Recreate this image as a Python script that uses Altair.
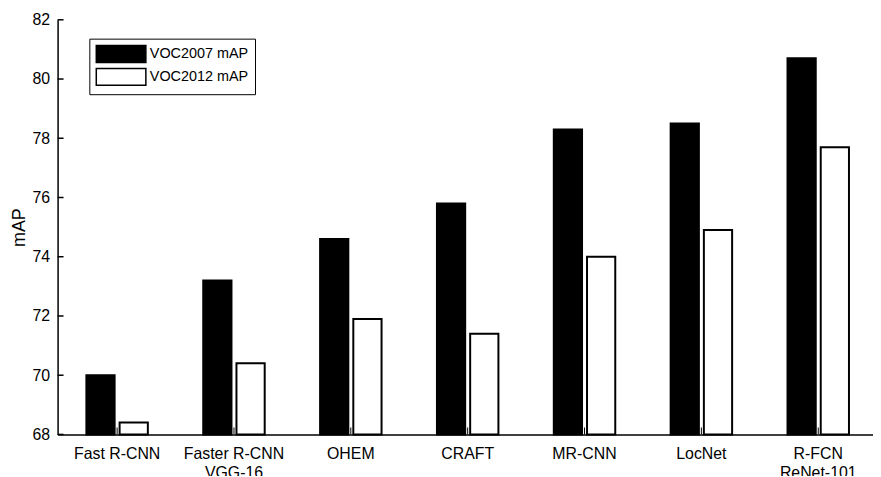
import altair as alt
import pandas as pd

categories = ["Fast R-CNN", "Faster R-CNN|VGG-16", "OHEM", "CRAFT", "MR-CNN", "LocNet", "R-FCN|ReNet-101"]
series = ["VOC2007 mAP", "VOC2012 mAP"]
voc2007 = [70.0, 73.2, 74.6, 75.8, 78.3, 78.5, 80.7]
voc2012 = [68.4, 70.4, 71.9, 71.4, 74.0, 74.9, 77.7]
y_ticks = [68, 70, 72, 74, 76, 78, 80, 82]

rows = []
for c, a, b in zip(categories, voc2007, voc2012):
    rows.append({"cat": c, "series": series[0], "v": a})
    rows.append({"cat": c, "series": series[1], "v": b})
df = pd.DataFrame(rows)
ticks_df = pd.DataFrame({"t": y_ticks})
cat_df = pd.DataFrame({"cat": categories})

W, H = 822, 418
FONT = "Liberation Sans"

xscale = alt.Scale(domain=categories, paddingInner=0.474, paddingOuter=0.226, align=0.545)
yscale = alt.Scale(domain=[y_ticks[0], y_ticks[-1]], zero=False, nice=False)

xaxis = alt.Axis(title=None, labelExpr="split(datum.label, '|')", labelAngle=0,
                 labelFontSize=16, labelFont=FONT, labelColor="black",
                 labelPadding=11, labelLineHeight=19, ticks=False, tickSize=0,
                 domainColor="black", domainWidth=1.5, grid=False)
yaxis = alt.Axis(title="mAP", values=y_ticks, labelFontSize=16, labelFont=FONT,
                 labelColor="black", labelPadding=8, ticks=False, tickSize=0,
                 domainColor="black", domainWidth=1.5, grid=False,
                 titleFontSize=18, titleFont=FONT, titleColor="black",
                 titleFontWeight="normal", titlePadding=4)

bars = alt.Chart(df).mark_bar(stroke="black", strokeWidth=2).encode(
    x=alt.X("cat:N", sort=categories, scale=xscale, axis=xaxis),
    xOffset=alt.XOffset("series:N", sort=series, scale=alt.Scale(paddingInner=0.15, paddingOuter=0)),
    y=alt.Y("v:Q", scale=yscale, axis=yaxis),
    y2=alt.datum(y_ticks[0]),
    color=alt.Color("series:N", sort=series,
                    scale=alt.Scale(domain=series, range=["black", "white"]),
                    legend=alt.Legend(title=None, orient="none", legendX=32, legendY=19,
                                      symbolType="M-1,-1H4.88V1H-1Z", symbolSize=289,
                                      symbolStrokeColor="black", symbolStrokeWidth=1.5,
                                      labelFontSize=14.5, labelFont=FONT, labelColor="black",
                                      labelOffset=36, rowPadding=0, padding=6,
                                      strokeColor="black", fillColor="white")),
)

yt = alt.Chart(ticks_df).mark_rule(color="black", strokeWidth=1.5).encode(
    y=alt.Y("t:Q", scale=yscale), x=alt.value(0), x2=alt.value(6))

xt = alt.Chart(cat_df).mark_rule(color="black", strokeWidth=1).encode(
    x=alt.X("cat:N", sort=categories, scale=xscale), y=alt.value(H), y2=alt.value(H - 7))

chart = alt.layer(bars, yt, xt).properties(
    width=W, height=H,
    autosize=alt.AutoSizeParams(type="none"),
    padding={"left": 50, "top": 10, "right": 0, "bottom": 40},
    background="white",
).configure_view(stroke=None)

chart.save("out.html", embed_options={"renderer": "svg", "actions": False})
